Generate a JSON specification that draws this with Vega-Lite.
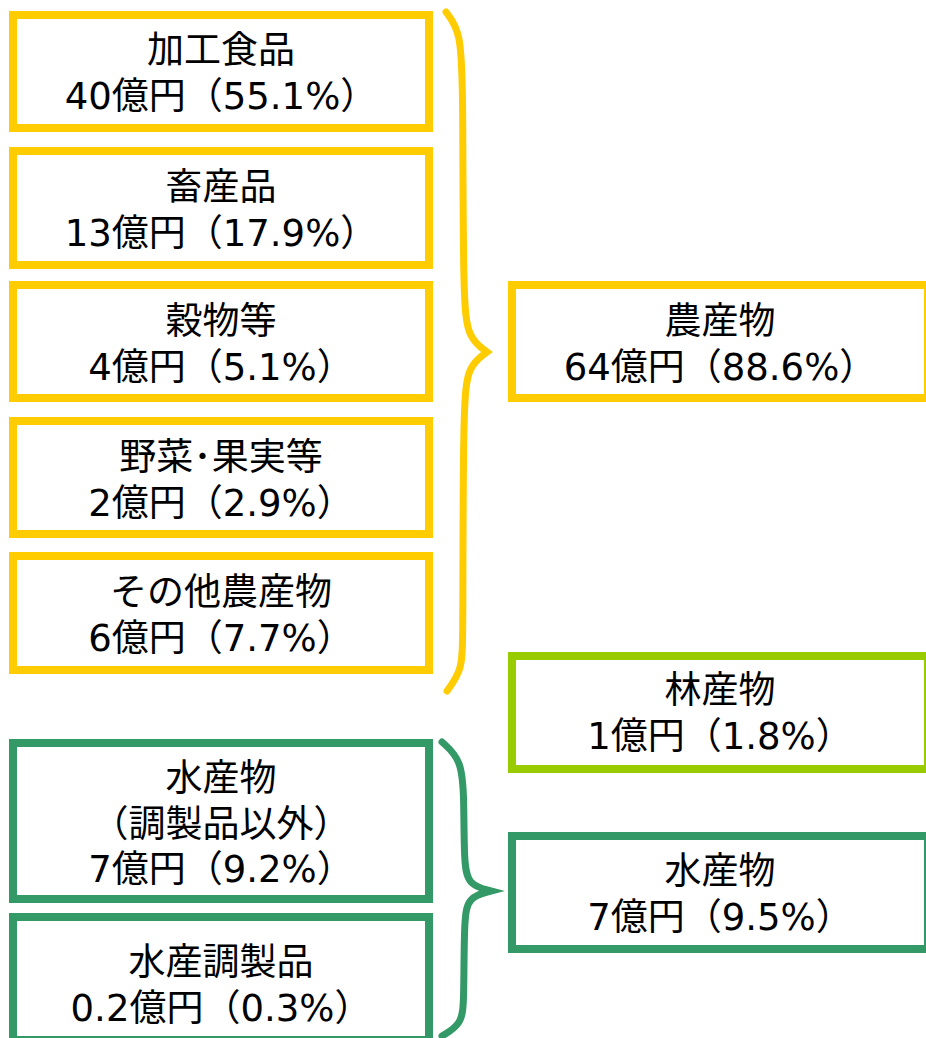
{
  "$schema": "https://vega.github.io/schema/vega-lite/v6.json",
  "width": 926,
  "height": 1038,
  "padding": 0,
  "autosize": {"type": "none"},
  "background": "white",
  "config": {"view": {"stroke": null}},
  "datasets": {
    "boxes": [
      {"col": "内訳", "group": "農産物", "label": "加工食品\n40億円（55.1%）", "top": 15, "bottom": 128, "line1": 52},
      {"col": "内訳", "group": "農産物", "label": "畜産品\n13億円（17.9%）", "top": 151, "bottom": 265, "line1": 189},
      {"col": "内訳", "group": "農産物", "label": "穀物等\n4億円（5.1%）", "top": 285, "bottom": 398, "line1": 323},
      {"col": "内訳", "group": "農産物", "label": "野菜･果実等\n2億円（2.9%）", "top": 421, "bottom": 534, "line1": 459},
      {"col": "内訳", "group": "農産物", "label": "その他農産物\n6億円（7.7%）", "top": 556, "bottom": 670, "line1": 594},
      {"col": "内訳", "group": "水産物", "label": "水産物\n（調製品以外）\n7億円（9.2%）", "top": 743, "bottom": 899, "line1": 780},
      {"col": "内訳", "group": "水産物", "label": "水産調製品\n0.2億円（0.3%）", "top": 917, "bottom": 1040, "line1": 964},
      {"col": "区分", "group": "農産物", "label": "農産物\n64億円（88.6%）", "top": 285, "bottom": 398, "line1": 323},
      {"col": "区分", "group": "林産物", "label": "林産物\n1億円（1.8%）", "top": 656, "bottom": 769, "line1": 692},
      {"col": "区分", "group": "水産物", "label": "水産物\n7億円（9.5%）", "top": 836, "bottom": 949, "line1": 873}
    ],
    "braces": [
      {"group": "農産物", "i": 0, "bx": 446, "by": 12},
      {"group": "農産物", "i": 1, "bx": 461, "by": 32},
      {"group": "農産物", "i": 2, "bx": 463, "by": 90},
      {"group": "農産物", "i": 3, "bx": 463, "by": 300},
      {"group": "農産物", "i": 4, "bx": 468, "by": 338},
      {"group": "農産物", "i": 5, "bx": 487, "by": 352},
      {"group": "農産物", "i": 6, "bx": 487, "by": 352},
      {"group": "農産物", "i": 7, "bx": 487, "by": 352},
      {"group": "農産物", "i": 8, "bx": 468, "by": 366},
      {"group": "農産物", "i": 9, "bx": 463, "by": 404},
      {"group": "農産物", "i": 10, "bx": 463, "by": 640},
      {"group": "農産物", "i": 11, "bx": 462, "by": 670},
      {"group": "農産物", "i": 12, "bx": 447, "by": 691},
      {"group": "水産物", "i": 0, "bx": 442, "by": 742},
      {"group": "水産物", "i": 1, "bx": 462, "by": 760},
      {"group": "水産物", "i": 2, "bx": 464, "by": 800},
      {"group": "水産物", "i": 3, "bx": 464, "by": 862},
      {"group": "水産物", "i": 4, "bx": 468, "by": 885},
      {"group": "水産物", "i": 5, "bx": 491, "by": 891},
      {"group": "水産物", "i": 6, "bx": 491, "by": 891},
      {"group": "水産物", "i": 7, "bx": 491, "by": 891},
      {"group": "水産物", "i": 8, "bx": 468, "by": 897},
      {"group": "水産物", "i": 9, "bx": 464, "by": 920},
      {"group": "水産物", "i": 10, "bx": 464, "by": 1000},
      {"group": "水産物", "i": 11, "bx": 462, "by": 1024},
      {"group": "水産物", "i": 12, "bx": 442, "by": 1036}
    ]
  },
  "layer": [
    {
      "data": {"name": "boxes"},
      "mark": {"type": "rect", "filled": false, "strokeWidth": 8, "strokeJoin": "miter"},
      "encoding": {
        "x": {"field": "col", "type": "nominal", "scale": {"domain": ["内訳", "区分"], "range": [13, 928], "paddingInner": 0.1663, "paddingOuter": 0}, "axis": null},
        "y": {"field": "top", "type": "quantitative", "scale": {"domain": [0, 1038], "reverse": true, "nice": false, "zero": false}, "axis": null},
        "y2": {"field": "bottom"},
        "color": {"field": "group", "type": "nominal", "scale": {"domain": ["農産物", "林産物", "水産物"], "range": ["#FFCC00", "#99CC00", "#339966"]}, "legend": null}
      }
    },
    {
      "data": {"name": "boxes"},
      "mark": {"type": "text", "font": "DejaVu Sans, Noto Sans CJK JP", "fontSize": 37, "lineBreak": "\n", "lineHeight": 45.5, "baseline": "middle", "align": "center", "color": "#000000"},
      "encoding": {
        "x": {"field": "col", "type": "nominal", "scale": {"type": "point", "domain": ["内訳", "区分"], "range": [221, 720], "padding": 0}, "axis": null},
        "y": {"field": "line1", "type": "quantitative", "axis": null},
        "text": {"field": "label"}
      }
    },
    {
      "data": {"name": "braces"},
      "mark": {"type": "line", "interpolate": "basis", "strokeWidth": 7, "strokeCap": "round"},
      "encoding": {
        "x": {"field": "bx", "type": "quantitative", "scale": {"domain": [0, 926], "nice": false, "zero": false}, "axis": null},
        "y": {"field": "by", "type": "quantitative", "axis": null},
        "order": {"field": "i"},
        "color": {"field": "group", "type": "nominal", "legend": null}
      }
    }
  ],
  "resolve": {"scale": {"x": "independent"}}
}
